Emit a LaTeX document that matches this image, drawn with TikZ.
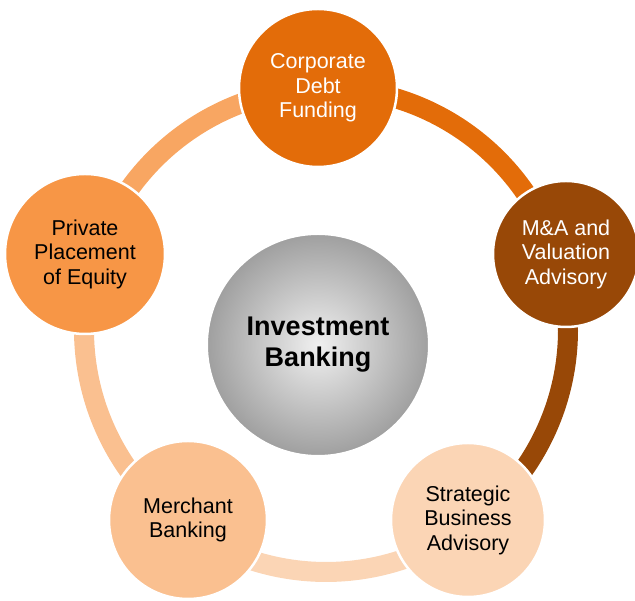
\documentclass[tikz,border=0pt]{standalone}
\usepackage{fontspec}
\setmainfont{Liberation Sans}
\begin{document}
\begin{tikzpicture}[x=1pt,y=1pt,
  bub/.style={circle,draw=white,line width=2.5pt,align=center,inner sep=0pt,font=\fontsize{21.5}{24.5}\selectfont},
  seg/.style={line width=20pt}]
\useasboundingbox (0,0) rectangle (635,601);
\definecolor{cA}{HTML}{E36C09}
\definecolor{cB}{HTML}{984807}
\definecolor{cC}{HTML}{FBD5B5}
\definecolor{cD}{HTML}{FAC090}
\definecolor{cE}{HTML}{F79646}
\coordinate (ring) at (326,271);
\draw[seg,cA] ([shift={(90:242)}]ring) arc (90:17.6:242);
\draw[seg,cB] ([shift={(17.6:242)}]ring) arc (17.6:-53.2:242);
\draw[seg,cC] ([shift={(-53.2:242)}]ring) arc (-53.2:-126.8:242);
\draw[seg,cD] ([shift={(-126.8:242)}]ring) arc (-126.8:-197.5:242);
\draw[seg,cE!85!white] ([shift={(162.5:242)}]ring) arc (162.5:90:242);
\node[bub,fill=cA,text=white,minimum size=158] (t) at (318,513) {Corporate\\Debt\\Funding};
\node[bub,fill=cB,text=white,minimum size=146] (r) at (566,347) {M\&A and\\Valuation\\Advisory};
\node[bub,fill=cC,minimum size=154] (br) at (468,81) {Strategic\\Business\\Advisory};
\node[bub,fill=cD,minimum size=158] (bl) at (188,81) {Merchant\\Banking};
\node[bub,fill=cE,minimum size=160] (l) at (85,347) {Private\\Placement\\of Equity};
\node[circle,draw=white,line width=2pt,minimum size=222,inner sep=0pt,
  inner color=gray!12,outer color=gray!75,align=center,
  font=\fontsize{27}{31}\selectfont\bfseries] (c) at (318,256) {Investment\\Banking};
\end{tikzpicture}
\end{document}
